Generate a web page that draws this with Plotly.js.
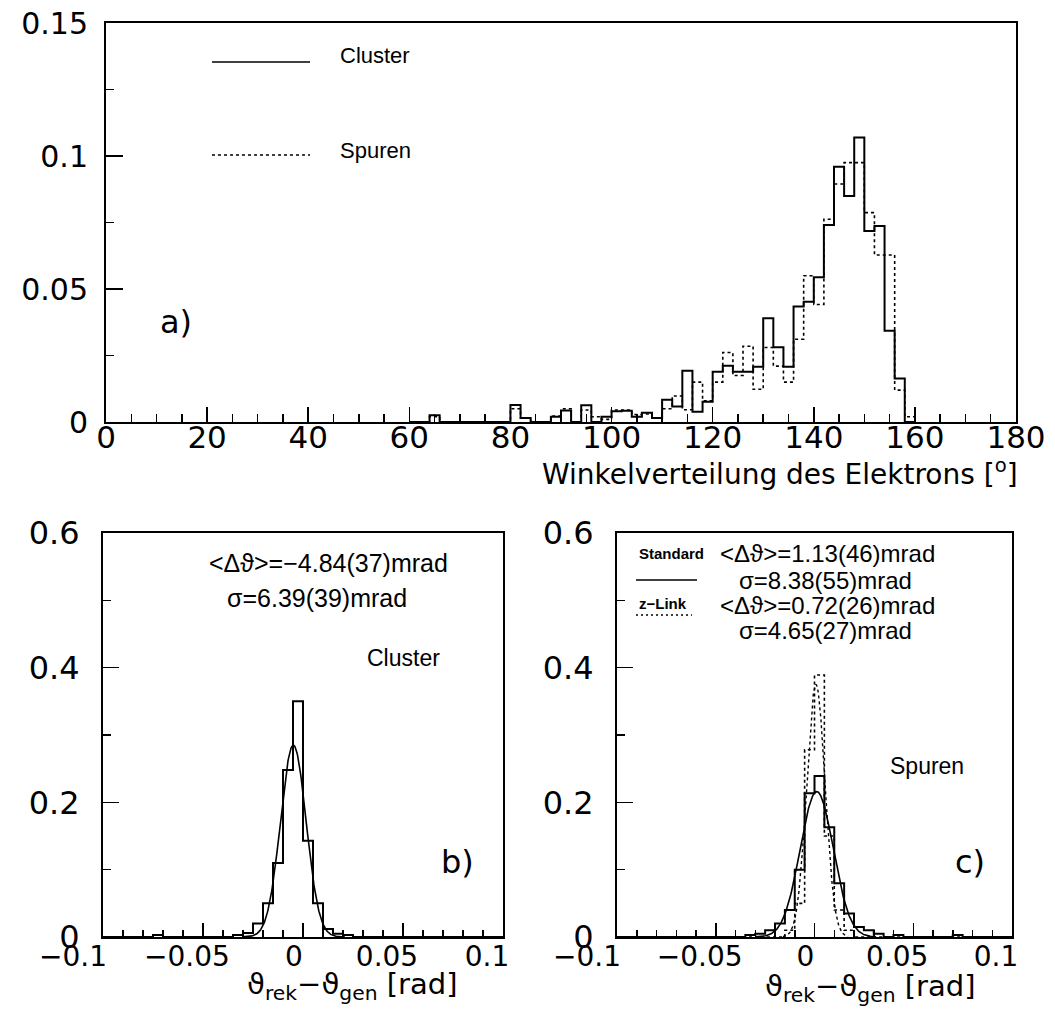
<!DOCTYPE html>
<html><head><meta charset="utf-8">
<script src="https://cdn.plot.ly/plotly-3.0.1.min.js"></script>
<style>html,body{margin:0;padding:0;background:#fff}</style>
</head><body><div id="chart" style="width:1055px;height:1009px"></div>
<script>
// a) Winkelverteilung des Elektrons, 2-Grad-Bins ab 60 Grad
const angleBinStart = 60, angleBinWidth = 2;
const clusterAngle = [
  0, 0, 0.0025, 0, 0, 0, 0, 0, 0, 0,
  0.0064, 0.0015, 0, 0, 0.002, 0.0043, 0, 0.0063, 0, 0.002,
  0.004, 0.0042, 0.002, 0.0035, 0.0015, 0.0084, 0.0058, 0.0193, 0.0039, 0.0076,
  0.0189, 0.0211, 0.0189, 0.0189, 0.0208, 0.039, 0.0281, 0.0208, 0.0434, 0.0452,
  0.0544, 0.0741, 0.096, 0.085, 0.107, 0.0718, 0.0737, 0.0343, 0.0164, 0
];
const spurenAngle = [
  0, 0, 0.002, 0, 0, 0, 0, 0, 0, 0,
  0.005, 0.0015, 0, 0, 0.0022, 0.005, 0, 0.0045, 0.002, 0.001,
  0.0045, 0.0045, 0.0028, 0.003, 0.0015, 0.005, 0.0098, 0.0046, 0.015, 0.008,
  0.015, 0.0261, 0.0175, 0.0285, 0.0123, 0.028, 0.021, 0.015, 0.0311, 0.055,
  0.0442, 0.0762, 0.0895, 0.0975, 0.0975, 0.0787, 0.0628, 0.0628, 0.012, 0.002
];

// b), c) Aufloesung theta_rek - theta_gen, 5-mrad-Bins ab -0.1 rad
const resBinStart = -0.1, resBinWidth = 0.005;
const clusterRes = [
  0, 0, 0, 0, 0, 0.003, 0, 0, 0, 0,
  0, 0, 0, 0.003, 0.006, 0.02, 0.05, 0.11, 0.248, 0.35,
  0.143, 0.05, 0.012, 0.005, 0.003, 0, 0, 0, 0, 0,
  0, 0, 0, 0, 0, 0, 0, 0, 0, 0
];
const standardRes = [
  0, 0, 0, 0, 0, 0, 0, 0, 0, 0,
  0, 0, 0, 0.003, 0.005, 0.01, 0.02, 0.04, 0.10, 0.2135,
  0.239, 0.163, 0.08, 0.035, 0.015, 0.01, 0.005, 0, 0.003, 0,
  0, 0, 0, 0, 0.003, 0, 0, 0, 0, 0
];
const zlinkRes = [
  0, 0, 0, 0, 0, 0, 0, 0, 0, 0,
  0, 0, 0, 0, 0, 0, 0, 0.01, 0.05, 0.278,
  0.389, 0.15, 0.04, 0.01, 0, 0, 0, 0, 0, 0,
  0, 0, 0, 0, 0, 0, 0, 0, 0, 0
];

// Gauss-Anpassungen (Mittelwert, Breite in rad)
const fitCluster  = {mean: -0.00484, sigma: 0.00639, amp: 0.285, from: -0.030, to: 0.021};
const fitStandard = {mean:  0.00113, sigma: 0.00838, amp: 0.216, from: -0.030, to: 0.031};
const fitZlink    = {mean:  0.00072, sigma: 0.00465, amp: 0.375, from: -0.016, to: 0.017};

// outline of a histogram as a step line
function stepLine(start, width, values) {
  const x = [start], y = [0];
  values.forEach((v, i) => { x.push(start + i * width); y.push(v); });
  x.push(start + values.length * width); y.push(0);
  return {x, y};
}
function gaussCurve(f) {
  const x = [], y = [], n = 200;
  for (let i = 0; i <= n; i++) {
    const t = f.from + (f.to - f.from) * i / n;
    x.push(t);
    y.push(f.amp * Math.exp(-0.5 * Math.pow((t - f.mean) / f.sigma, 2)));
  }
  return {x, y};
}

const solid = {color: '#000', width: 2, shape: 'hv'};
const dotted = {color: '#000', width: 1.6, shape: 'hv', dash: '3px,3px'};

const hA1 = stepLine(angleBinStart, angleBinWidth, clusterAngle);
const hA2 = stepLine(angleBinStart, angleBinWidth, spurenAngle);
const hB = stepLine(resBinStart, resBinWidth, clusterRes);
const hC1 = stepLine(resBinStart, resBinWidth, standardRes);
const hC2 = stepLine(resBinStart, resBinWidth, zlinkRes);
const gB = gaussCurve(fitCluster), gC1 = gaussCurve(fitStandard), gC2 = gaussCurve(fitZlink);

const traces = [
  {x: hA2.x, y: hA2.y, mode: 'lines', line: dotted, xaxis: 'x', yaxis: 'y'},
  {x: hA1.x, y: hA1.y, mode: 'lines', line: solid, xaxis: 'x', yaxis: 'y'},
  {x: hB.x, y: hB.y, mode: 'lines', line: solid, xaxis: 'x2', yaxis: 'y2'},
  {x: gB.x, y: gB.y, mode: 'lines', line: {color: '#000', width: 1.6}, xaxis: 'x2', yaxis: 'y2'},
  {x: hC2.x, y: hC2.y, mode: 'lines', line: dotted, xaxis: 'x3', yaxis: 'y3'},
  {x: hC1.x, y: hC1.y, mode: 'lines', line: solid, xaxis: 'x3', yaxis: 'y3'},
  {x: gC2.x, y: gC2.y, mode: 'lines', line: {color: '#000', width: 1.4, dash: '3px,3px'}, xaxis: 'x3', yaxis: 'y3'},
  {x: gC1.x, y: gC1.y, mode: 'lines', line: {color: '#000', width: 1.6}, xaxis: 'x3', yaxis: 'y3'}
];

const W = 1055, H = 1009;
const px = v => v / W, py = v => 1 - v / H;
const tickFamily = 'DejaVu Sans, sans-serif';
const txtFamily = 'Liberation Sans, Arial, sans-serif';
const tf = size => ({family: tickFamily, size: size, color: '#000'});
const af = (size, family) => ({family: family || txtFamily, size: size, color: '#000'});

function baseAxis(extra) {
  return Object.assign({
    showline: true, linewidth: 2, linecolor: '#000', mirror: true,
    ticks: 'inside', tickwidth: 1.5, tickcolor: '#000',
    showgrid: false, zeroline: false, fixedrange: true
  }, extra);
}
const minorTicks = (d, len) => ({dtick: d, ticklen: len, ticks: 'inside', tickcolor: '#000', tickwidth: 1.5});

const resTicks = [-0.1, -0.05, 0, 0.05, 0.1];
const resText = ['\u22120.1\u2002\u2002', '\u22120.05', '\u20020', '0.05', '0.1'];

const layout = {
  width: W, height: H, margin: {l: 0, r: 0, t: 0, b: 0},
  paper_bgcolor: '#fff', plot_bgcolor: '#fff', showlegend: false,
  xaxis: baseAxis({domain: [px(106), px(1016)], range: [0, 180], anchor: 'y',
    tickvals: [0, 20, 40, 60, 80, 100, 120, 140, 160, 180], ticklen: 15,
    minor: minorTicks(5, 8), tickfont: tf(31), ticklabelstandoff: -13}),
  yaxis: baseAxis({domain: [py(422), py(23)], range: [0, 0.15], anchor: 'x',
    tickvals: [0, 0.05, 0.1, 0.15], ticktext: ['0', '0.05', '0.1', '0.15'], ticklen: 17,
    minor: minorTicks(0.025, 8), tickfont: tf(30), ticklabelstandoff: 10}),
  xaxis2: baseAxis({domain: [px(103), px(503)], range: [-0.1, 0.1], anchor: 'y2',
    tickvals: resTicks, ticktext: resText, ticklen: 14,
    minor: minorTicks(0.01, 7), tickfont: tf(28), ticklabelshift: -16, ticklabelstandoff: -7}),
  yaxis2: baseAxis({domain: [py(937), py(533)], range: [0, 0.6], anchor: 'x2',
    tickvals: [0, 0.2, 0.4, 0.6], ticktext: ['0', '0.2', '0.4', '0.6'], ticklen: 16,
    minor: minorTicks(0.1, 8), tickfont: tf(32), ticklabelstandoff: 15}),
  xaxis3: baseAxis({domain: [px(617), px(1012)], range: [-0.1, 0.1], anchor: 'y3',
    tickvals: resTicks, ticktext: resText, ticklen: 14,
    minor: minorTicks(0.01, 7), tickfont: tf(28), ticklabelshift: -16, ticklabelstandoff: -7}),
  yaxis3: baseAxis({domain: [py(937), py(533)], range: [0, 0.6], anchor: 'x3',
    tickvals: [0, 0.2, 0.4, 0.6], ticktext: ['0', '0.2', '0.4', '0.6'], ticklen: 16,
    minor: minorTicks(0.1, 8), tickfont: tf(32), ticklabelstandoff: 15}),
  shapes: [
    {type: 'line', xref: 'paper', yref: 'paper', x0: px(212), x1: px(310), y0: py(62), y1: py(62), line: {color: '#000', width: 1.6}},
    {type: 'line', xref: 'paper', yref: 'paper', x0: px(212), x1: px(310), y0: py(155), y1: py(155), line: {color: '#000', width: 1.6, dash: '3px,3px'}},
    {type: 'line', xref: 'paper', yref: 'paper', x0: px(636), x1: px(697), y0: py(580), y1: py(580), line: {color: '#000', width: 1.6}},
    {type: 'line', xref: 'paper', yref: 'paper', x0: px(636), x1: px(692), y0: py(615), y1: py(615), line: {color: '#000', width: 1.6, dash: '2px,3px'}}
  ],
  annotations: [
    {text: 'Cluster', x: px(338), y: py(55), xanchor: 'left', font: af(22)},
    {text: 'Spuren', x: px(338), y: py(150), xanchor: 'left', font: af(22)},
    {text: 'a)', x: px(158), y: py(322), xanchor: 'left', font: af(32, tickFamily)},
    {text: 'Winkelverteilung des Elektrons [<sup>o</sup>]', x: px(1020), y: py(473), xanchor: 'right', font: af(28, tickFamily)},

    {text: '<\u0394\u03d1>=\u22124.84(37)mrad', x: px(207), y: py(563), xanchor: 'left', font: af(25)},
    {text: '\u03c3=6.39(39)mrad', x: px(225), y: py(598), xanchor: 'left', font: af(25)},
    {text: 'Cluster', x: px(365), y: py(658), xanchor: 'left', font: af(23)},
    {text: 'b)', x: px(439), y: py(862), xanchor: 'left', font: af(32, tickFamily)},
    {text: '\u03d1<sub>rek</sub>\u2212\u03d1<sub>gen</sub> [rad]', x: px(352), y: py(986), xanchor: 'center', font: af(29, tickFamily)},

    {text: '<b>Standard</b>', x: px(637), y: py(553), xanchor: 'left', font: af(15)},
    {text: '<b>z\u2212Link</b>', x: px(637), y: py(603), xanchor: 'left', font: af(15)},
    {text: '<\u0394\u03d1>=1.13(46)mrad', x: px(718), y: py(553), xanchor: 'left', font: af(24)},
    {text: '\u03c3=8.38(55)mrad', x: px(737), y: py(580), xanchor: 'left', font: af(24)},
    {text: '<\u0394\u03d1>=0.72(26)mrad', x: px(718), y: py(605), xanchor: 'left', font: af(24)},
    {text: '\u03c3=4.65(27)mrad', x: px(737), y: py(630), xanchor: 'left', font: af(24)},
    {text: 'Spuren', x: px(888), y: py(766), xanchor: 'left', font: af(23)},
    {text: 'c)', x: px(953), y: py(862), xanchor: 'left', font: af(32, tickFamily)},
    {text: '\u03d1<sub>rek</sub>\u2212\u03d1<sub>gen</sub> [rad]', x: px(870), y: py(988), xanchor: 'center', font: af(29, tickFamily)}
  ].map(a => Object.assign({xref: 'paper', yref: 'paper', yanchor: 'middle', showarrow: false}, a))
};

Plotly.newPlot('chart', traces, layout, {displayModeBar: false, staticPlot: true});
</script>
</body></html>
